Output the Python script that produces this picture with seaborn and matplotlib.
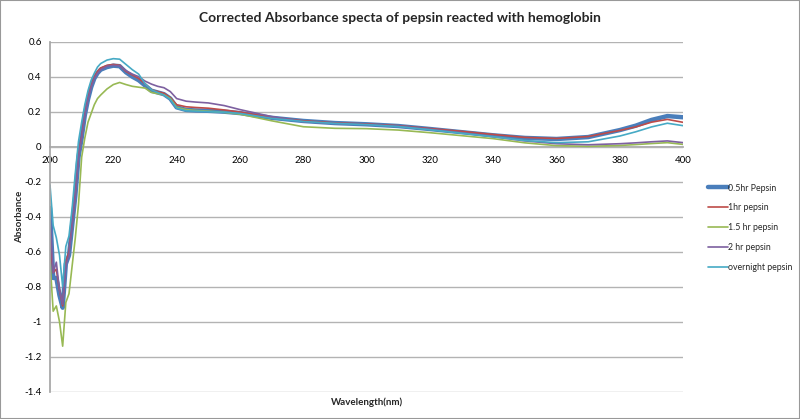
import matplotlib
matplotlib.use("Agg")
import matplotlib.pyplot as plt
import seaborn as sns
import numpy as np
from matplotlib.patches import Rectangle

wavelength = [200, 201, 202, 203, 204, 205, 206, 207, 208, 209, 210, 211, 212, 213, 214,
              215, 216, 218, 220, 222, 224, 226, 228, 230, 232, 234, 236, 238, 240, 243,
              246, 250, 255, 260, 270, 280, 290, 300, 310, 320, 330, 340, 350, 360, 370,
              380, 385, 390, 395, 400]

pepsin_05hr = [-0.35, -0.75, -0.75, -0.85, -0.92, -0.67, -0.62, -0.45, -0.28, -0.06, 0.05,
               0.18, 0.27, 0.34, 0.39, 0.42, 0.44, 0.455, 0.463, 0.46, 0.425, 0.40, 0.38,
               0.35, 0.32, 0.31, 0.30, 0.275, 0.225, 0.21, 0.207, 0.205, 0.20, 0.192, 0.165,
               0.147, 0.135, 0.128, 0.118, 0.101, 0.083, 0.065, 0.05, 0.044, 0.055, 0.095,
               0.12, 0.153, 0.175, 0.168]

pepsin_1hr = [-0.54, -0.72, -0.70, -0.82, -0.91, -0.66, -0.60, -0.44, -0.27, -0.05, 0.06,
              0.19, 0.28, 0.35, 0.40, 0.43, 0.45, 0.465, 0.47, 0.465, 0.43, 0.41, 0.39,
              0.36, 0.325, 0.315, 0.305, 0.28, 0.24, 0.228, 0.224, 0.22, 0.21, 0.198, 0.168,
              0.148, 0.136, 0.13, 0.12, 0.104, 0.088, 0.07, 0.053, 0.047, 0.058, 0.093,
              0.113, 0.14, 0.156, 0.139]

pepsin_15hr = [-0.65, -0.94, -0.91, -1.00, -1.14, -0.89, -0.84, -0.68, -0.52, -0.33, -0.06,
               0.05, 0.14, 0.19, 0.24, 0.275, 0.295, 0.33, 0.355, 0.367, 0.355, 0.345, 0.34,
               0.335, 0.31, 0.303, 0.296, 0.275, 0.225, 0.212, 0.207, 0.203, 0.196, 0.186,
               0.148, 0.114, 0.105, 0.103, 0.095, 0.08, 0.063, 0.046, 0.022, 0.006, 0.002,
               0.007, 0.012, 0.018, 0.023, 0.013]

pepsin_2hr = [-0.40, -0.72, -0.66, -0.82, -0.90, -0.68, -0.62, -0.45, -0.28, -0.06, 0.05,
              0.18, 0.27, 0.34, 0.39, 0.42, 0.44, 0.46, 0.465, 0.462, 0.435, 0.415, 0.40,
              0.375, 0.358, 0.345, 0.337, 0.315, 0.275, 0.26, 0.255, 0.25, 0.235, 0.212,
              0.172, 0.143, 0.133, 0.127, 0.118, 0.10, 0.08, 0.057, 0.033, 0.017, 0.011,
              0.017, 0.022, 0.028, 0.033, 0.023]

pepsin_overnight = [-0.22, -0.45, -0.52, -0.62, -0.80, -0.57, -0.51, -0.35, -0.15, 0.03, 0.14,
                    0.24, 0.32, 0.38, 0.42, 0.455, 0.475, 0.495, 0.503, 0.50, 0.47, 0.44, 0.415,
                    0.36, 0.325, 0.31, 0.295, 0.27, 0.22, 0.205, 0.203, 0.20, 0.197, 0.19,
                    0.162, 0.144, 0.133, 0.126, 0.115, 0.097, 0.077, 0.057, 0.035, 0.023,
                    0.028, 0.061, 0.085, 0.113, 0.134, 0.12]

series_labels = ["0.5hr Pepsin", "1hr pepsin", "1.5 hr pepsin", "2 hr pepsin", "overnight pepsin"]
y_ticks = [0.6, 0.4, 0.2, 0, -0.2, -0.4, -0.6, -0.8, -1, -1.2, -1.4]
y_tick_labels = ["0.6", "0.4", "0.2", "0", "-0.2", "-0.4", "-0.6", "-0.8", "-1", "-1.2", "-1.4"]
x_ticks = [200, 220, 240, 260, 280, 300, 320, 340, 360, 380, 400]

colors = ["#4A7EBB", "#BE4B48", "#98B954", "#7D60A0", "#46AAC5"]
widths = [3.2, 1.2, 1.2, 1.2, 1.2]

sns.set_theme(style="white")
plt.rcParams['font.family'] = ['Lato', 'DejaVu Sans']

fig = plt.figure(figsize=(8, 4.19), dpi=100)
ax = fig.add_axes([0.0625, 0.0652, 0.854 - 0.0625, 0.9005 - 0.0652])

all_series = [pepsin_05hr, pepsin_1hr, pepsin_15hr, pepsin_2hr, pepsin_overnight]
for vals, lab, c, w in zip(all_series, series_labels, colors, widths):
    sns.lineplot(x=wavelength, y=vals, ax=ax, color=c, linewidth=w, label=lab)

ax.set_xlim(200, 400)
ax.set_ylim(-1.4, 0.6)
ax.set_yticks(y_ticks)
ax.set_yticklabels(y_tick_labels)
ax.set_xticks(x_ticks)
ax.set_xticklabels([str(t) for t in x_ticks])
ax.yaxis.grid(True, color="#b3b3b3", linewidth=1)
ax.xaxis.grid(False)
ax.set_axisbelow(True)

for s in ["top", "right"]:
    ax.spines[s].set_visible(False)
ax.spines["bottom"].set_position(("data", 0))
ax.spines["bottom"].set_color("#a6a6a6")
ax.spines["left"].set_color("#a6a6a6")
ax.spines["bottom"].set_zorder(0.5)
ax.tick_params(axis="both", length=0, labelsize=7, colors="black")
ax.tick_params(axis="x", pad=7)
ax.tick_params(axis="y", pad=6)

ax.set_xlabel("")
ax.set_ylabel("")
fig.text(0.459, 1 - 402 / 419, "Wavelength(nm)", ha="center", va="center",
         fontsize=7, fontweight="bold")
fig.text(20 / 800, 1 - 217 / 419, "Absorbance", ha="center", va="center",
         fontsize=7, fontweight="bold", rotation=90)
fig.text(0.5, 1 - 18 / 419, "Corrected Absorbance specta of pepsin reacted with hemoglobin",
         ha="center", va="center", fontsize=10, fontweight="bold")

leg = ax.legend(loc="upper left", bbox_to_anchor=(704 / 800, 1 - 180 / 419),
                bbox_transform=fig.transFigure, frameon=False, fontsize=6.3,
                handlelength=2.3, handletextpad=0.1, labelspacing=1.25, borderaxespad=0)

fig.patches.append(Rectangle((0, 0), 1, 1, transform=fig.transFigure, fill=False,
                             edgecolor="#999999", linewidth=1.5))

fig.savefig("out.png", dpi=100)
